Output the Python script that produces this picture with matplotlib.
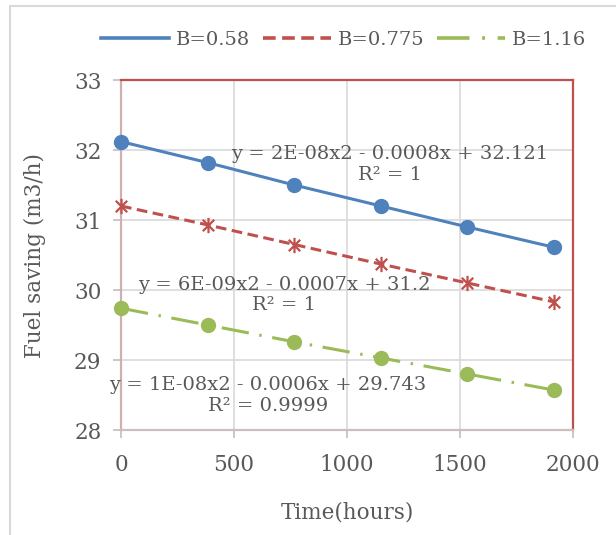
import matplotlib
matplotlib.use("Agg")
import matplotlib.pyplot as plt
from matplotlib.path import Path
from matplotlib.patches import Rectangle
from matplotlib.lines import Line2D

# Operating time (hours) and fuel saving (m3/h) for three B values
time_hours = [0, 383, 766, 1150, 1533, 1916]
saving_b058 = [32.12, 31.82, 31.50, 31.20, 30.90, 30.61]
saving_b0775 = [31.20, 30.93, 30.65, 30.37, 30.10, 29.83]
saving_b116 = [29.74, 29.50, 29.26, 29.03, 28.80, 28.57]

series_labels = ["B=0.58", "B=0.775", "B=1.16"]
trend_labels = [
    "y = 2E-08x2 - 0.0008x + 32.121\nR\u00b2 = 1",
    "y = 6E-09x2 - 0.0007x + 31.2\nR\u00b2 = 1",
    "y = 1E-08x2 - 0.0006x + 29.743\nR\u00b2 = 0.9999",
]
x_ticks = [0, 500, 1000, 1500, 2000]
y_ticks = [28, 29, 30, 31, 32, 33]

BLUE = "#4F81BD"
RED = "#C0504D"
GREEN = "#9BBB59"
TEXT = "#595959"
GRID = "#D9D9D9"

plt.rcParams["font.family"] = ["DejaVu Serif"]
plt.rcParams["font.size"] = 14

fig = plt.figure(figsize=(6.16, 5.35), dpi=100)
ax = fig.add_axes([121 / 616, 1 - 430 / 535, 452 / 616, 350 / 535])

# star marker: vertical bar crossed by an X
star = Path(
    [(0, -1), (0, 1), (-0.75, -0.75), (0.75, 0.75), (-0.75, 0.75), (0.75, -0.75)],
    [Path.MOVETO, Path.LINETO, Path.MOVETO, Path.LINETO, Path.MOVETO, Path.LINETO],
)

red_dash = (3.5, 1.8)
green_dash = (9, 3.5, 0.8, 3.5)

ax.plot(time_hours, saving_b058, color=BLUE, lw=2.2, marker="o", ms=10,
        zorder=3, clip_on=False)
ax.plot(time_hours, saving_b0775, color=RED, lw=2.2, dashes=red_dash,
        marker=star, ms=11, mew=1.6, zorder=3, clip_on=False)
ax.plot(time_hours, saving_b116, color=GREEN, lw=2.2, dashes=green_dash,
        marker="o", ms=10, zorder=3, clip_on=False)

# polynomial trendline equations
ax.text(1190, 31.79, trend_labels[0], ha="center", va="center", color=TEXT,
        fontsize=14, linespacing=1.2, zorder=4)
ax.text(721, 29.93, trend_labels[1], ha="center", va="center", color=TEXT,
        fontsize=14, linespacing=1.2, zorder=4)
ax.text(650, 28.49, trend_labels[2], ha="center", va="center", color=TEXT,
        fontsize=14, linespacing=1.2, zorder=4)

ax.set_xlim(0, 2000)
ax.set_ylim(28, 33)
ax.set_xticks(x_ticks)
ax.set_yticks(y_ticks)
ax.grid(True, color=GRID, lw=1.2)
ax.set_axisbelow(True)
ax.tick_params(colors=TEXT, labelsize=15.5, length=6, width=1.2)
ax.tick_params(axis="both", color="#BFBFBF")
ax.tick_params(axis="x", pad=11)
ax.tick_params(axis="y", pad=8)

ax.spines["top"].set_color(RED)
ax.spines["right"].set_color(RED)
ax.spines["left"].set_color("#D2AFAF")
ax.spines["bottom"].set_color("#CDBDBD")
for s in ax.spines.values():
    s.set_linewidth(1.6)

ax.set_xlabel("Time(hours)", color=TEXT, fontsize=15.5, labelpad=19)
ax.set_ylabel("Fuel saving (m3/h)", color=TEXT, fontsize=15.5, labelpad=20)

handles = [
    Line2D([], [], color=BLUE, lw=2.6),
    Line2D([], [], color=RED, lw=2.6, dashes=red_dash),
    Line2D([], [], color=GREEN, lw=2.6, dashes=green_dash),
]
fig.legend(handles, series_labels, loc="center",
           bbox_to_anchor=(0.558, 1 - 40 / 535), ncol=3,
           frameon=False, fontsize=14, handlelength=3.5, columnspacing=0.65,
           handletextpad=0.35, labelcolor=TEXT)

fig.patches.append(Rectangle((10 / 616, -0.05), 1.2, 1 - 6 / 535 + 0.05,
                             transform=fig.transFigure, fill=False,
                             edgecolor=GRID, lw=1.5))

fig.savefig("out.png", dpi=100)
